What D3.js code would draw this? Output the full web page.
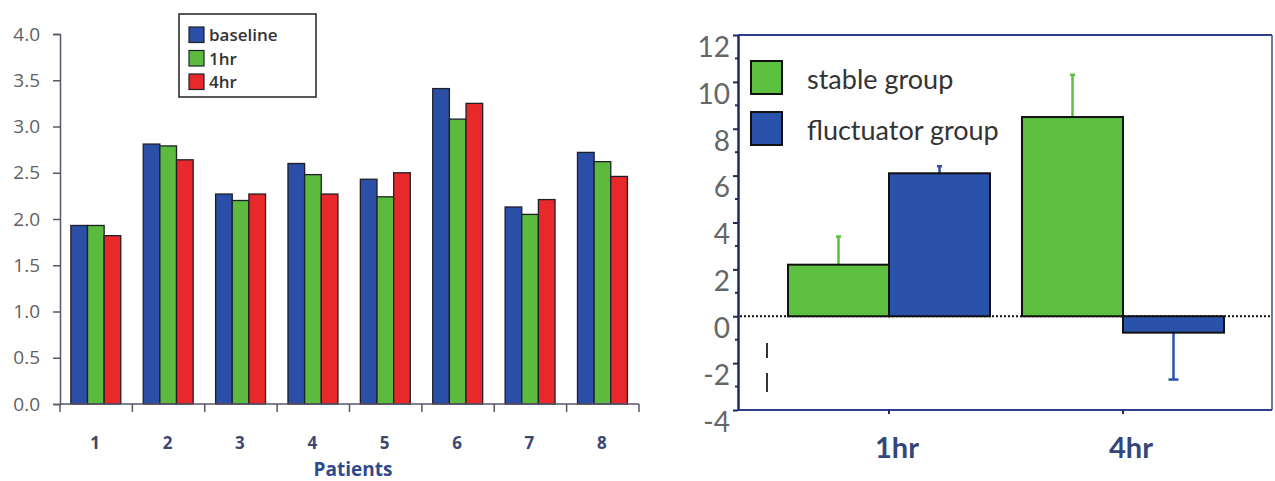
<!DOCTYPE html>
<html>
<head>
<meta charset="utf-8">
<script src="https://cdn.jsdelivr.net/npm/d3@7"></script>
<style>
  html, body { margin: 0; padding: 0; background: #ffffff; }
  svg { display: block; }
</style>
</head>
<body>
<svg id="chart" width="1275" height="481"></svg>
<script>
// ---- Left panel: per-patient values at three time points ----
const patients = ["1", "2", "3", "4", "5", "6", "7", "8"];
const seriesNames = ["baseline", "1hr", "4hr"];
const baselineValues = [1.93, 2.81, 2.27, 2.60, 2.43, 3.41, 2.13, 2.72];
const hr1Values      = [1.93, 2.79, 2.20, 2.48, 2.24, 3.08, 2.05, 2.62];
const hr4Values      = [1.82, 2.64, 2.27, 2.27, 2.50, 3.25, 2.21, 2.46];
const leftTicks = [0, 0.5, 1.0, 1.5, 2.0, 2.5, 3.0, 3.5, 4.0];

// ---- Right panel: group change with error bars ----
const timePoints = ["1hr", "4hr"];
const groupNames = ["stable group", "fluctuator group"];
const stableMeans = [2.2, 8.5];
const stableErrors = [1.2, 1.8];
const fluctuatorMeans = [6.1, -0.7];
const fluctuatorErrors = [0.3, -2.0];
const rightTicks = [-4, -2, 0, 2, 4, 6, 8, 10, 12];
const rightMinorTicks = [-3, -1, 1, 3, 5, 7, 9, 11];

const svg = d3.select("#chart");

// ================= Left chart =================
const leftColors = { "baseline": "#2b4fa6", "1hr": "#5cbb3e", "4hr": "#e8282b" };
const leftSeries = [baselineValues, hr1Values, hr4Values];

const xL = d3.scaleBand().domain(patients).range([60, 639]).padding(0);
const xLInner = d3.scaleBand().domain(seriesNames)
  .range([xL.bandwidth() * 0.15, xL.bandwidth() * 0.84]).padding(0);
const yL = d3.scaleLinear().domain([0, 4]).range([404, 34]);

const leftG = svg.append("g");

const leftData = patients.flatMap((p, i) =>
  seriesNames.map((s, j) => ({ patient: p, series: s, value: leftSeries[j][i] })));

leftG.append("g").selectAll("rect")
  .data(leftData)
  .join("rect")
  .attr("x", d => xL(d.patient) + xLInner(d.series))
  .attr("y", d => yL(d.value))
  .attr("width", xLInner.bandwidth())
  .attr("height", d => yL(0) - yL(d.value))
  .attr("fill", d => leftColors[d.series])
  .attr("stroke", "#1f1f2a")
  .attr("stroke-width", 1.3);

// y axis
const yAxisL = leftG.append("g")
  .attr("transform", "translate(60,0)")
  .call(d3.axisLeft(yL).tickValues(leftTicks).tickFormat(d3.format(".1f")).tickSize(7).tickPadding(13));
yAxisL.select(".domain").attr("stroke", "#5b5566").attr("stroke-width", 1.5);
yAxisL.selectAll(".tick line").attr("stroke", "#5b5566").attr("stroke-width", 1.5);
yAxisL.selectAll(".tick text")
  .attr("fill", "#5f5f66")
  .style("font-family", "'Open Sans', sans-serif")
  .style("font-size", "19px");

// x axis: ticks on band boundaries
const xAxisL = leftG.append("g").attr("transform", `translate(0,${yL(0)})`);
xAxisL.append("line")
  .attr("x1", xL.range()[0]).attr("x2", xL.range()[1])
  .attr("stroke", "#5b5566").attr("stroke-width", 1.5);
const boundaries = patients.map(p => xL(p)).concat([xL.range()[1]]);
xAxisL.selectAll("line.bt")
  .data(boundaries)
  .join("line")
  .attr("class", "bt")
  .attr("x1", d => d).attr("x2", d => d)
  .attr("y1", 0).attr("y2", 8)
  .attr("stroke", "#5b5566").attr("stroke-width", 1.5);
xAxisL.selectAll("text")
  .data(patients)
  .join("text")
  .attr("x", d => xL(d) + xL.bandwidth() / 2 - 1)
  .attr("y", 45)
  .attr("text-anchor", "middle")
  .attr("fill", "#3b4870")
  .style("font-family", "'Open Sans', sans-serif")
  .style("font-weight", "bold")
  .style("font-size", "17px")
  .text(d => d);

leftG.append("text")
  .attr("x", 353).attr("y", 476)
  .attr("text-anchor", "middle")
  .attr("fill", "#2f4a8c")
  .style("font-family", "'Open Sans', sans-serif")
  .style("font-weight", "bold")
  .style("font-size", "19px")
  .text("Patients");

// legend
const legL = leftG.append("g");
legL.append("rect")
  .attr("x", 179).attr("y", 14).attr("width", 137).attr("height", 83)
  .attr("fill", "#ffffff").attr("stroke", "#222").attr("stroke-width", 1.5);
seriesNames.forEach((s, i) => {
  const yy = 27 + i * 23.5;
  legL.append("rect")
    .attr("x", 189).attr("y", yy).attr("width", 15).attr("height", 15.5)
    .attr("fill", leftColors[s]).attr("stroke", "#1f1f2a").attr("stroke-width", 1.2);
  legL.append("text")
    .attr("x", 209).attr("y", yy + 14)
    .attr("fill", "#333")
    .style("font-family", "'Open Sans', sans-serif")
    .style("font-weight", "600")
    .style("font-size", "17px")
    .text(s);
});

// ================= Right chart =================
const rightColors = { "stable group": "#5cbf40", "fluctuator group": "#2a52aa" };
const plotLeft = 738, plotRight = 1272, plotTop = 35, plotBottom = 410;

const xR = d3.scaleBand().domain(timePoints).range([772, 1240]).padding(0);
const xRInner = d3.scaleBand().domain(groupNames)
  .range([xR.bandwidth() / 2 - 101, xR.bandwidth() / 2 + 101]).padding(0);
const yR = d3.scaleLinear().domain([-4, 12]).range([plotBottom, plotTop]);

const rightG = svg.append("g");

// frame: top and right borders
rightG.append("line")
  .attr("x1", plotLeft).attr("x2", plotRight).attr("y1", plotTop).attr("y2", plotTop)
  .attr("stroke", "#2d3f8c").attr("stroke-width", 2);
rightG.append("line")
  .attr("x1", plotRight).attr("x2", plotRight).attr("y1", plotTop).attr("y2", plotBottom)
  .attr("stroke", "#3d4f96").attr("stroke-width", 1.5);

// dotted zero line
rightG.append("line")
  .attr("x1", plotLeft + 2).attr("x2", plotRight - 2)
  .attr("y1", yR(0)).attr("y2", yR(0))
  .attr("stroke", "#111").attr("stroke-width", 2)
  .attr("stroke-dasharray", "2,2");

const rightData = timePoints.flatMap((t, i) => [
  { time: t, group: groupNames[0], value: stableMeans[i], err: stableErrors[i] },
  { time: t, group: groupNames[1], value: fluctuatorMeans[i], err: fluctuatorErrors[i] }
]);

// error bars (drawn from the bar end outward)
const errG = rightG.append("g");
rightData.forEach(d => {
  const cx = xR(d.time) + xRInner(d.group) + xRInner.bandwidth() / 2;
  const end = d.value + d.err;
  const capW = d.err < 0 ? 10 : 5;
  errG.append("line")
    .attr("x1", cx).attr("x2", cx)
    .attr("y1", yR(d.value)).attr("y2", yR(end))
    .attr("stroke", rightColors[d.group]).attr("stroke-width", 2.5);
  errG.append("line")
    .attr("x1", cx - capW / 2).attr("x2", cx + capW / 2)
    .attr("y1", yR(end)).attr("y2", yR(end))
    .attr("stroke", rightColors[d.group]).attr("stroke-width", 2.5);
});

rightG.append("g").selectAll("rect")
  .data(rightData)
  .join("rect")
  .attr("x", d => xR(d.time) + xRInner(d.group))
  .attr("y", d => yR(Math.max(0, d.value)))
  .attr("width", xRInner.bandwidth())
  .attr("height", d => Math.abs(yR(d.value) - yR(0)))
  .attr("fill", d => rightColors[d.group])
  .attr("stroke", "#111").attr("stroke-width", 2);

// y axis with major and minor ticks; labels sit a little below their ticks
const yAxisR = rightG.append("g").attr("transform", `translate(${plotLeft},0)`);
yAxisR.call(d3.axisLeft(yR).tickValues(rightTicks).tickFormat(d => String(d))
  .tickSize(5).tickPadding(3).tickSizeOuter(0));
yAxisR.select(".domain").attr("stroke", "#1f2b5a").attr("stroke-width", 2.5);
yAxisR.selectAll(".tick line").attr("stroke", "#1f2b5a").attr("stroke-width", 2);
yAxisR.selectAll(".tick text")
  .attr("dy", "0.76em")
  .attr("fill", "#666")
  .style("font-family", "Lato, sans-serif")
  .style("font-size", "28px");
yAxisR.selectAll("line.minor")
  .data(rightMinorTicks)
  .join("line")
  .attr("class", "minor")
  .attr("x1", -3).attr("x2", 0)
  .attr("y1", d => yR(d)).attr("y2", d => yR(d))
  .attr("stroke", "#1f2b5a").attr("stroke-width", 2);

// x axis
const xAxisR = rightG.append("g").attr("transform", `translate(0,${plotBottom})`);
xAxisR.append("line")
  .attr("x1", plotLeft).attr("x2", plotRight)
  .attr("stroke", "#2d3f8c").attr("stroke-width", 2);
xAxisR.selectAll("line.t")
  .data(timePoints)
  .join("line")
  .attr("class", "t")
  .attr("x1", d => xR(d) + xR.bandwidth() / 2).attr("x2", d => xR(d) + xR.bandwidth() / 2)
  .attr("y1", 0).attr("y2", 4)
  .attr("stroke", "#1f2b5a").attr("stroke-width", 2);
xAxisR.selectAll("text")
  .data(timePoints)
  .join("text")
  .attr("x", d => xR(d) + xR.bandwidth() / 2 + 8)
  .attr("y", 48)
  .attr("text-anchor", "middle")
  .attr("fill", "#34467a")
  .style("font-family", "Lato, sans-serif")
  .style("font-weight", "bold")
  .style("font-size", "29px")
  .text(d => d);

// small vertical marks below the zero line
rightG.selectAll("line.mark")
  .data([[343, 358], [373, 392]])
  .join("line")
  .attr("class", "mark")
  .attr("x1", 767).attr("x2", 767)
  .attr("y1", d => d[0]).attr("y2", d => d[1])
  .attr("stroke", "#333").attr("stroke-width", 2);

// legend
const legR = rightG.append("g");
groupNames.forEach((g, i) => {
  const yy = 61 + i * 51;
  legR.append("rect")
    .attr("x", 751).attr("y", yy).attr("width", 31).attr("height", 33)
    .attr("fill", rightColors[g]).attr("stroke", "#111").attr("stroke-width", 2);
  legR.append("text")
    .attr("x", 807).attr("y", yy + 28)
    .attr("fill", "#333")
    .style("font-family", "Lato, sans-serif")
    .style("font-size", "27px")
    .text(g);
});
</script>
</body>
</html>
